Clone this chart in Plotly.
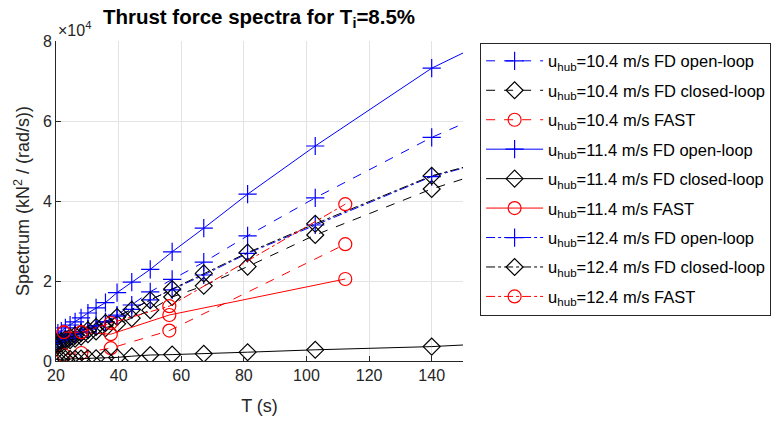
import plotly.graph_objects as go

# Period grid for FD results (s)
T_fd = [19.5, 20.6, 21.7, 23.0, 24.5, 26.1, 28.0, 30.2, 32.8, 35.8, 39.5, 44.2, 50.1, 57.1, 67.2, 81.2, 102.8, 140.0, 220.0]
# Period grid for FAST results (s)
T_fast = [22.5, 28.1, 37.5, 56.2, 112.4]

# Spectrum values (kN^2/(rad/s))
fd_open_104 = [4300, 4600, 5000, 5500, 6000, 6600, 7200, 8000, 8800, 9800, 11500, 14000, 17300, 20400, 24700, 31300, 40800, 55900, 83100]
fd_closed_104 = [3900, 4100, 4400, 4800, 5200, 5600, 6100, 6700, 7400, 8200, 9300, 10700, 12700, 16000, 18800, 23600, 31500, 43000, 63000]
fast_104 = [1500, 2000, 3200, 7600, 29200]
fd_open_114 = [6600, 7000, 7500, 8300, 9000, 9800, 10800, 12000, 13300, 14600, 17100, 19700, 22900, 27300, 33200, 41700, 53750, 73200, 103600]
fd_closed_114 = [400, 400, 450, 500, 500, 550, 600, 650, 700, 800, 900, 1200, 1500, 1600, 1800, 2200, 2800, 3600, 6800]
fast_114 = [7100, 7100, 6700, 11500, 20500]
fd_open_124 = [4700, 5000, 5300, 5700, 6200, 6700, 7300, 8000, 8800, 9800, 11200, 12900, 15300, 17800, 21500, 26900, 34000, 46100, 63000]
fd_closed_124 = [4400, 4700, 5000, 5400, 5900, 6400, 7000, 7700, 8500, 9500, 11000, 12800, 15200, 18000, 21900, 27100, 34300, 46300, 63000]
fast_124 = [7200, 7200, 9500, 13700, 39200]

series = [
    ("u<sub>hub</sub>=10.4 m/s FD open-loop", T_fd, fd_open_104, "#0000ff", "dash", "cross-thin-open"),
    ("u<sub>hub</sub>=10.4 m/s FD closed-loop", T_fd, fd_closed_104, "#000000", "dash", "diamond-open"),
    ("u<sub>hub</sub>=10.4 m/s FAST", T_fast, fast_104, "#ff0000", "dash", "circle-open"),
    ("u<sub>hub</sub>=11.4 m/s FD open-loop", T_fd, fd_open_114, "#0000ff", "solid", "cross-thin-open"),
    ("u<sub>hub</sub>=11.4 m/s FD closed-loop", T_fd, fd_closed_114, "#000000", "solid", "diamond-open"),
    ("u<sub>hub</sub>=11.4 m/s FAST", T_fast, fast_114, "#ff0000", "solid", "circle-open"),
    ("u<sub>hub</sub>=12.4 m/s FD open-loop", T_fd, fd_open_124, "#0000ff", "dashdot", "cross-thin-open"),
    ("u<sub>hub</sub>=12.4 m/s FD closed-loop", T_fd, fd_closed_124, "#000000", "dashdot", "diamond-open"),
    ("u<sub>hub</sub>=12.4 m/s FAST", T_fast, fast_124, "#ff0000", "dashdot", "circle-open"),
]

x_ticks = [20, 40, 60, 80, 100, 120, 140]
y_ticks = [0, 20000, 40000, 60000, 80000]
y_ticktext = ["0", "2", "4", "6", "8"]

FONT = "Liberation Sans, Arial, Helvetica, sans-serif"

fig = go.Figure()
for i, (name, x, y, color, dash, sym) in enumerate(series):
    fig.add_trace(go.Scatter(
        x=x, y=y, name=name, mode="lines+markers", legendgroup="g%d" % i,
        line=dict(color=color, width=1, dash=dash),
        marker=dict(symbol=sym, size=13, color=color, line=dict(color=color, width=1.2)),
    ))

fig.update_layout(
    width=776, height=423,
    margin=dict(l=56, r=313, t=41, b=62, autoexpand=False),
    paper_bgcolor="white", plot_bgcolor="white",
    font=dict(family=FONT, color="#262626", size=16),
    title=dict(text="<b>Thrust force spectra for T<sub>i</sub>=8.5%</b>",
               x=259 / 776, xanchor="center", y=1 - 17 / 423, yanchor="middle",
               font=dict(size=20.5, color="#000000", family=FONT)),
    showlegend=True,
    legend=dict(x=1.042, xanchor="left", y=0.995, yanchor="top",
                bgcolor="white", bordercolor="#262626", borderwidth=1,
                font=dict(size=16.5, color="#000000", family=FONT),
                tracegroupgap=5, itemwidth=57),
    xaxis=dict(range=[20, 150], tickvals=x_ticks, showgrid=True, gridcolor="#e3e3e3",
               zeroline=False, showline=True, linecolor="#262626", linewidth=1,
               ticks="inside", ticklen=5, tickcolor="#262626",
               title=dict(text="T (s)", font=dict(size=18), standoff=16),
               tickfont=dict(size=16)),
    yaxis=dict(range=[0, 80000], tickvals=y_ticks, ticktext=y_ticktext, showgrid=True,
               gridcolor="#e3e3e3", zeroline=False, showline=True, linecolor="#262626",
               linewidth=1, ticks="inside", ticklen=5, tickcolor="#262626",
               title=dict(text="Spectrum (kN<sup>2</sup> / (rad/s))", font=dict(size=18), standoff=8),
               tickfont=dict(size=16)),
    annotations=[dict(text="\u00d710<sup>4</sup>", xref="paper", yref="paper",
                      x=0.0, y=1.0, xanchor="left", yanchor="bottom", showarrow=False,
                      font=dict(size=16, color="#262626", family=FONT))],
)

fig.write_html("out.html")
